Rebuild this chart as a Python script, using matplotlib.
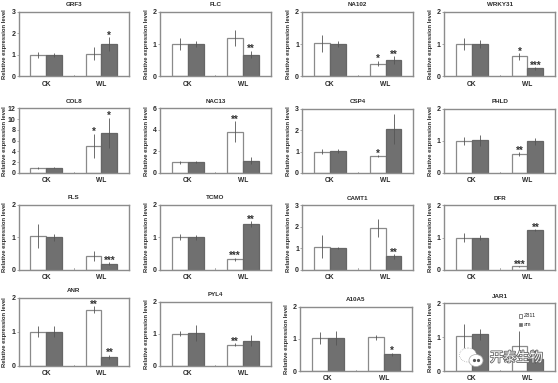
import matplotlib
matplotlib.use("Agg")
import matplotlib.pyplot as plt
import matplotlib.patheffects as pe
from matplotlib.patches import Rectangle, Ellipse

plt.rcParams['font.family'] = ['Liberation Sans', 'DejaVu Sans']

W, H = 558, 383
categories = ["CK", "WL"]
genes = ["GRF3", "FLC", "NA102", "WRKY31", "COL8", "NAC13", "CSP4", "PHLD",
         "FLS", "TCMO", "CAMT1", "DFR", "ANR", "PYL4", "A10A5", "JAR1"]
ymax = [3, 2, 2, 2, 12, 6, 3, 2, 2, 2, 3, 2, 2, 2, 2, 2]
yticks = [[0, 1, 2, 3], [0, 1, 2], [0, 1, 2], [0, 1, 2],
          [0, 2, 4, 6, 8, 10, 12], [0, 2, 4, 6], [0, 1, 2, 3], [0, 1, 2],
          [0, 1, 2], [0, 1, 2], [0, 1, 2, 3], [0, 1, 2],
          [0, 1, 2], [0, 1, 2], [0, 1, 2], [0, 1, 2]]
z811 = [[1.0, 1.05], [1.0, 1.2], [1.03, 0.4], [1.0, 0.62],
        [1.0, 5.0], [1.0, 3.85], [1.0, 0.8], [1.0, 0.6],
        [1.05, 0.42], [1.0, 0.32], [1.08, 1.93], [1.0, 0.1],
        [1.01, 1.65], [1.0, 0.66], [1.02, 1.05], [1.04, 0.75]]
am = [[1.0, 1.52], [1.0, 0.68], [1.0, 0.5], [1.0, 0.25],
      [1.0, 7.5], [1.0, 1.15], [1.03, 2.05], [1.02, 0.98],
      [1.0, 0.18], [1.0, 1.4], [1.0, 0.62], [1.0, 1.22],
      [1.01, 0.27], [1.02, 0.79], [1.03, 0.52], [1.08, 0.35]]
z811_err = [[0.15, 0.3], [0.18, 0.25], [0.27, 0.09], [0.19, 0.1],
            [0.2, 2.3], [0.12, 1.0], [0.1, 0.05], [0.13, 0.06],
            [0.37, 0.16], [0.09, 0.05], [0.52, 0.42], [0.14, 0.01],
            [0.15, 0.11], [0.08, 0.04], [0.18, 0.08], [0.35, 0.42]]
am_err = [[0.1, 0.32], [0.09, 0.12], [0.09, 0.13], [0.13, 0.04],
          [0.1, 2.8], [0.08, 0.3], [0.1, 0.7], [0.17, 0.11],
          [0.1, 0.05], [0.07, 0.09], [0.05, 0.12], [0.07, 0.03],
          [0.16, 0.06], [0.25, 0.17], [0.22, 0.05], [0.15, 0.1]]
z811_sig = ["", "", "*", "*", "*", "**", "*", "**", "", "***", "", "***", "**", "**", "", ""]
am_sig = ["*", "**", "**", "***", "*", "", "", "", "***", "**", "**", "**", "**", "", "*", "*"]
# left, right, top, bottom of each panel, in reference pixels
boxes = [(18.7, 129, 12, 76.4), (160, 270.7, 12, 76.4), (302.3, 413.3, 12, 76.4), (444, 555.3, 12, 76.4),
         (18.7, 129, 108.4, 173), (160, 270.7, 108.4, 173), (302.3, 413.3, 108.6, 173), (444, 555.3, 108.6, 173),
         (18.7, 129, 205, 269.7), (160, 270.7, 205, 269.7), (302.3, 413.3, 205.3, 269.7), (444, 555.3, 205.3, 269.7),
         (18.7, 129, 297.7, 366), (160, 270.7, 301.7, 366), (300, 412, 306.7, 371), (444, 555.3, 303.3, 371)]

FRAME = "#8c8c8c"
GREY = "#707070"
TXT = "#2a2a2a"
BAR_W = 0.287

fig = plt.figure(figsize=(W / 100, H / 100), dpi=100)
for i, gene in enumerate(genes):
    l, r, t, b = boxes[i]
    ax = fig.add_axes([l / W, 1 - b / H, (r - l) / W, (b - t) / H])
    ax.set_xlim(0, 2)
    ax.set_ylim(0, ymax[i])
    for c in range(2):
        xc = c + 0.5
        for val, err, off, face, edge in ((z811[i][c], z811_err[i][c], -BAR_W / 2, "white", "#8a8a8a"),
                                          (am[i][c], am_err[i][c], BAR_W / 2, GREY, "#666666")):
            ax.bar(xc + off, val, BAR_W, color=face, edgecolor=edge, linewidth=0.9, zorder=2)
            ax.errorbar(xc + off, val, yerr=err, ecolor="#555555", elinewidth=0.6,
                        capsize=0, zorder=3)
    for x_off, vals, errs, sig in ((-BAR_W / 2, z811[i], z811_err[i], z811_sig[i]),
                                   (BAR_W / 2, am[i], am_err[i], am_sig[i])):
        if sig:
            ax.annotate(sig, (1.5 + x_off, vals[1] + errs[1]), xytext=(0, -2.6),
                        textcoords="offset points", ha="center", va="bottom",
                        fontsize=7, fontweight="bold", color="#333333", zorder=4)
    for s in ax.spines.values():
        s.set_color(FRAME)
        s.set_linewidth(1.0)
    ax.set_xticks([0.5, 1.5], categories)
    ax.set_yticks(yticks[i])
    ax.tick_params(axis="x", length=0, pad=3.2, labelsize=4.8, labelcolor=TXT)
    ax.tick_params(axis="y", length=1.2, width=0.5, color=FRAME, pad=1.2, labelsize=5, labelcolor=TXT)
    for lab in ax.get_xticklabels() + ax.get_yticklabels():
        lab.set_fontweight("bold")
    ax.plot([1, 1], [0, ymax[i] * 0.02], color=FRAME, lw=0.5, zorder=1)
    ax.set_ylabel("Relative expression level", fontsize=4.2, fontweight="bold", color=TXT)
    ax.yaxis.set_label_coords(-11.2 / (r - l), 0.5)
    ax.set_title(gene, fontsize=4.5, fontweight="bold", color=TXT, pad=4)
    if gene == "JAR1":
        for label, face, edge, yp in (("Z811", "white", "#555555", 0.79), ("am", GREY, GREY, 0.66)):
            ax.add_patch(Rectangle((1.345, ymax[i] * yp), 0.055, 0.1, facecolor=face,
                                   edgecolor=edge, linewidth=0.5, zorder=5))
            ax.text(1.43, ymax[i] * yp + 0.05, label, fontsize=4, color=TXT,
                    va="center", ha="left", zorder=5)

# watermark
bub = fig.add_axes([458 / W, 1 - 369 / H, 30 / W, 22 / H])
bub.set_xlim(0, 30)
bub.set_ylim(22, 0)
bub.axis("off")
bub.add_patch(Ellipse((10, 8), 17, 14, facecolor="white", edgecolor="#999999", lw=0.5, ls=":"))
bub.add_patch(Ellipse((18, 13.5), 14, 12, facecolor="white", edgecolor="#aaaaaa", lw=0.5))
bub.plot([15.5, 20.5], [13, 13], ls="", marker="o", ms=1.3, color="#555555")
fig.text(490 / W, 1 - 358 / H, "开泰生物", fontsize=9.5, color="white", ha="left", va="center",
         family=["Noto Sans CJK SC", "DejaVu Sans"],
         path_effects=[pe.withStroke(linewidth=1.2, foreground="#666666")], zorder=10)
fig.savefig("out.png", dpi=100, facecolor="white")
